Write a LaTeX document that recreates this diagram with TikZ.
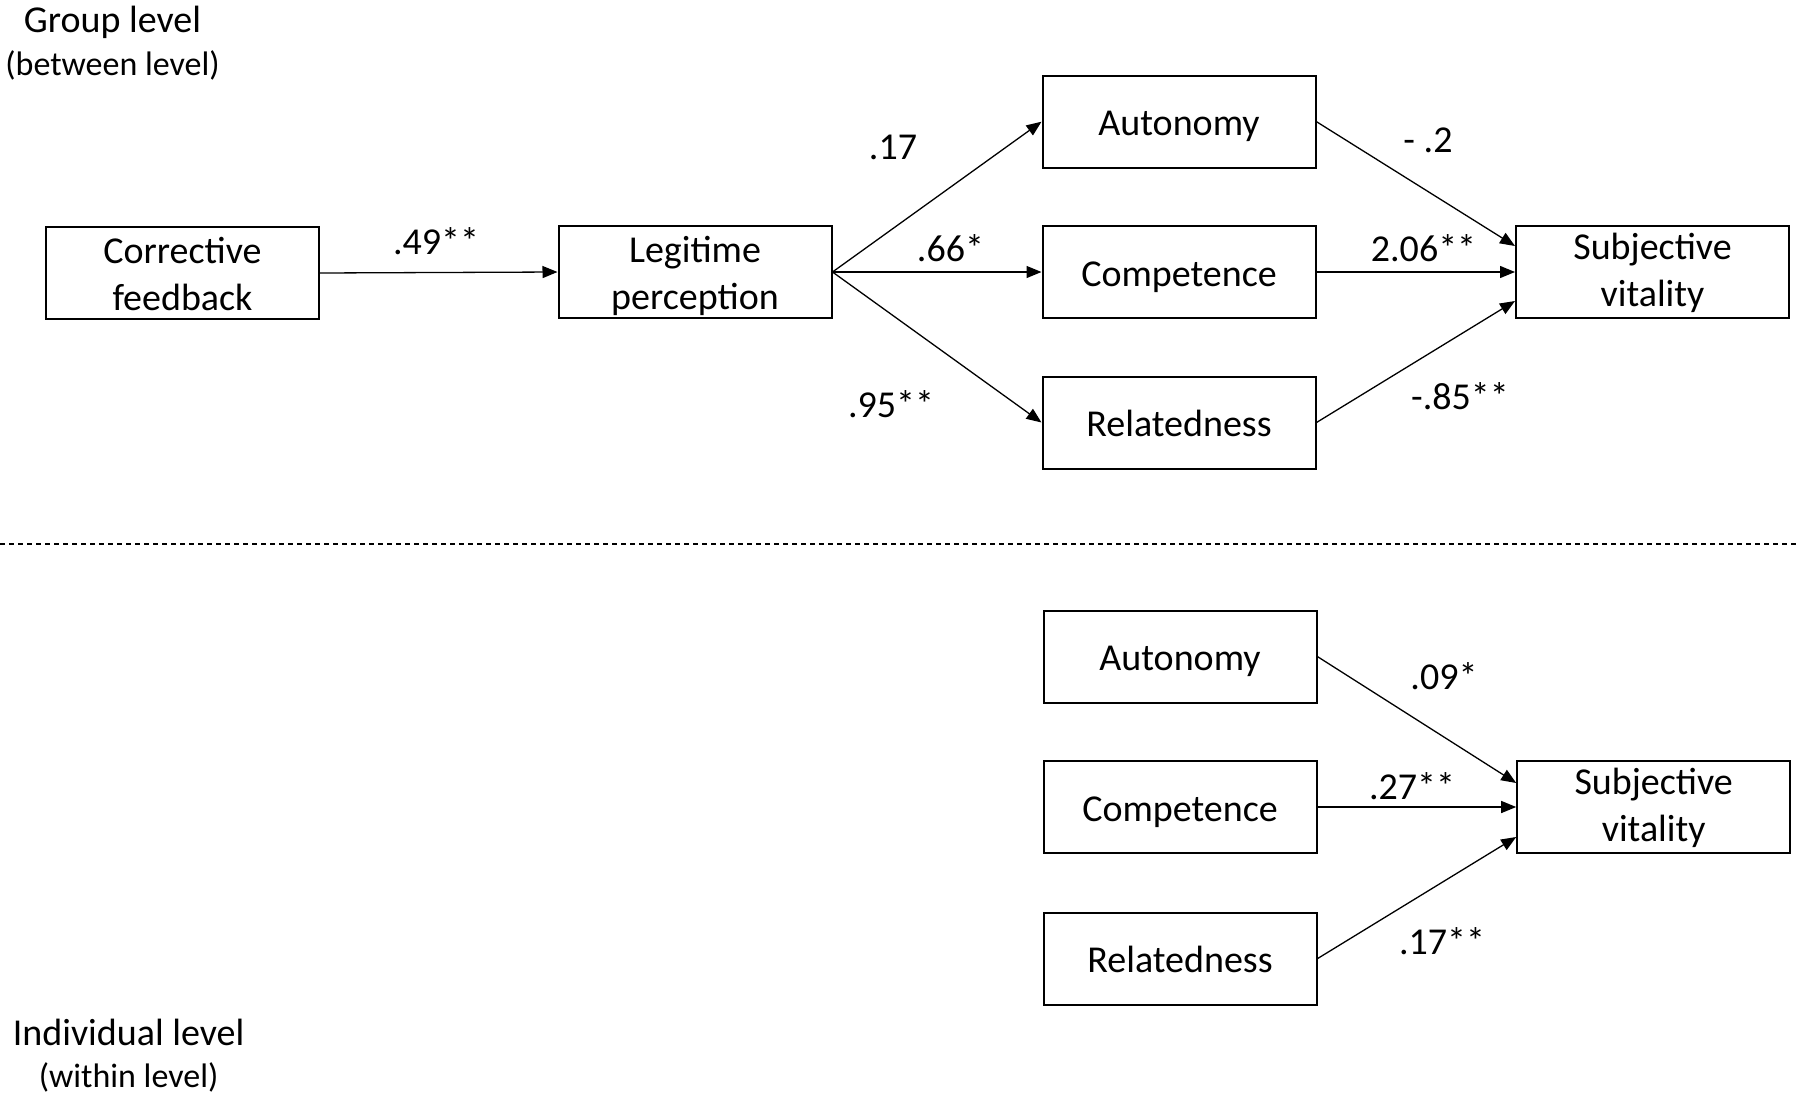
\documentclass[tikz,border=0pt]{standalone}
\usepackage{fontspec}
\setmainfont{Carlito}
\usetikzlibrary{arrows.meta,calc}
\begin{document}
\begin{tikzpicture}[x=1pt,y=-1pt,
  box/.style={draw,line width=2pt,minimum width=273pt,minimum height=92pt,inner sep=0pt},
  btxt/.style={inner sep=0pt,align=center,yshift=-1pt,font=\fontsize{38}{47}\selectfont},
  btxtone/.style={inner sep=0pt,text height=27pt,text depth=9pt,yshift=-5pt,font=\fontsize{38}{47}\selectfont},
  lbl/.style={inner sep=0pt,font=\fontsize{38}{46}\selectfont},
  hdr/.style={inner sep=0pt,font=\fontsize{38}{46}\selectfont},
  sub/.style={inner sep=0pt,font=\fontsize{34}{40}\selectfont},
  arr/.style={line width=1.3pt,-{Triangle[length=15pt,width=12pt]}}]
\useasboundingbox (0,0) rectangle (1800,1100);
\fill[white] (0,0) rectangle (1800,1100);
% headings
\node[hdr] (gl) at (112.5,22) {Group level};
\node[sub] (bl) at (112.5,65) {(between level)};
\node[hdr] (il) at (128.6,1032) {Individual level};
\node[sub] (wl) at (128.6,1077) {(within level)};
% top boxes
\node[box] (cf) at (182.5,273) {};
\node[btxt] (cft) at (cf) {Corrective\\feedback};
\node[box] (lp) at (695,272) {};
\node[btxt,yshift=-3pt] (lpt) at (lp) {Legitime\\perception};
\node[box] (a1) at (1179,121.7) {};
\node[btxtone] (a1t) at (a1) {Autonomy};
\node[box] (c1) at (1179,272) {};
\node[btxtone] (c1t) at (c1) {Competence};
\node[box] (r1) at (1179,422.5) {};
\node[btxtone] (r1t) at (r1) {Relatedness};
\node[box] (s1) at (1652.5,272) {};
\node[btxt] (s1t) at (s1) {Subjective\\vitality};
% dashed separator
\coordinate (dl) at (0,544);
\coordinate (dr) at (1800,544);
\draw[line width=1.5pt,dash pattern=on 5pt off 4pt] (dl) -- (dr);
% bottom boxes
\node[box] (a2) at (1180,656.6) {};
\node[btxtone] (a2t) at (a2) {Autonomy};
\node[box] (c2) at (1180,807) {};
\node[btxtone] (c2t) at (c2) {Competence};
\node[box] (r2) at (1180,958.6) {};
\node[btxtone] (r2t) at (r2) {Relatedness};
\node[box] (s2) at (1653.7,807) {};
\node[btxt] (s2t) at (s2) {Subjective\\vitality};
% top arrows
\draw[arr] (cf.east) -- (lp.west);
\draw[arr] (lp.east) -- (a1.west);
\draw[arr] (lp.east) -- (c1.west);
\draw[arr] (lp.east) -- (r1.west);
\draw[arr] (a1.east) -- ($(s1.west)+(0,-26)$);
\draw[arr] (c1.east) -- (s1.west);
\draw[arr] (r1.east) -- ($(s1.west)+(0,29)$);
% bottom arrows
\draw[arr] (a2.east) -- ($(s2.west)+(0,-24)$);
\draw[arr] (c2.east) -- (s2.west);
\draw[arr] (r2.east) -- ($(s2.west)+(0,30)$);
% labels
\node[lbl] (l1) at (436,241) {.49**};
\node[lbl] (l2) at (893,147) {.17};
\node[lbl] (l3) at (950.5,248) {.66*};
\node[lbl] (l4) at (891,404) {.95**};
\node[lbl] (l5) at (1428,140) {- .2};
\node[lbl] (l6) at (1423.5,248) {2.06**};
\node[lbl] (l7) at (1460,396) {-.85**};
\node[lbl] (l8) at (1444,676) {.09*};
\node[lbl] (l9) at (1412,786) {.27**};
\node[lbl] (l10) at (1442,941) {.17**};
\end{tikzpicture}
\end{document}
